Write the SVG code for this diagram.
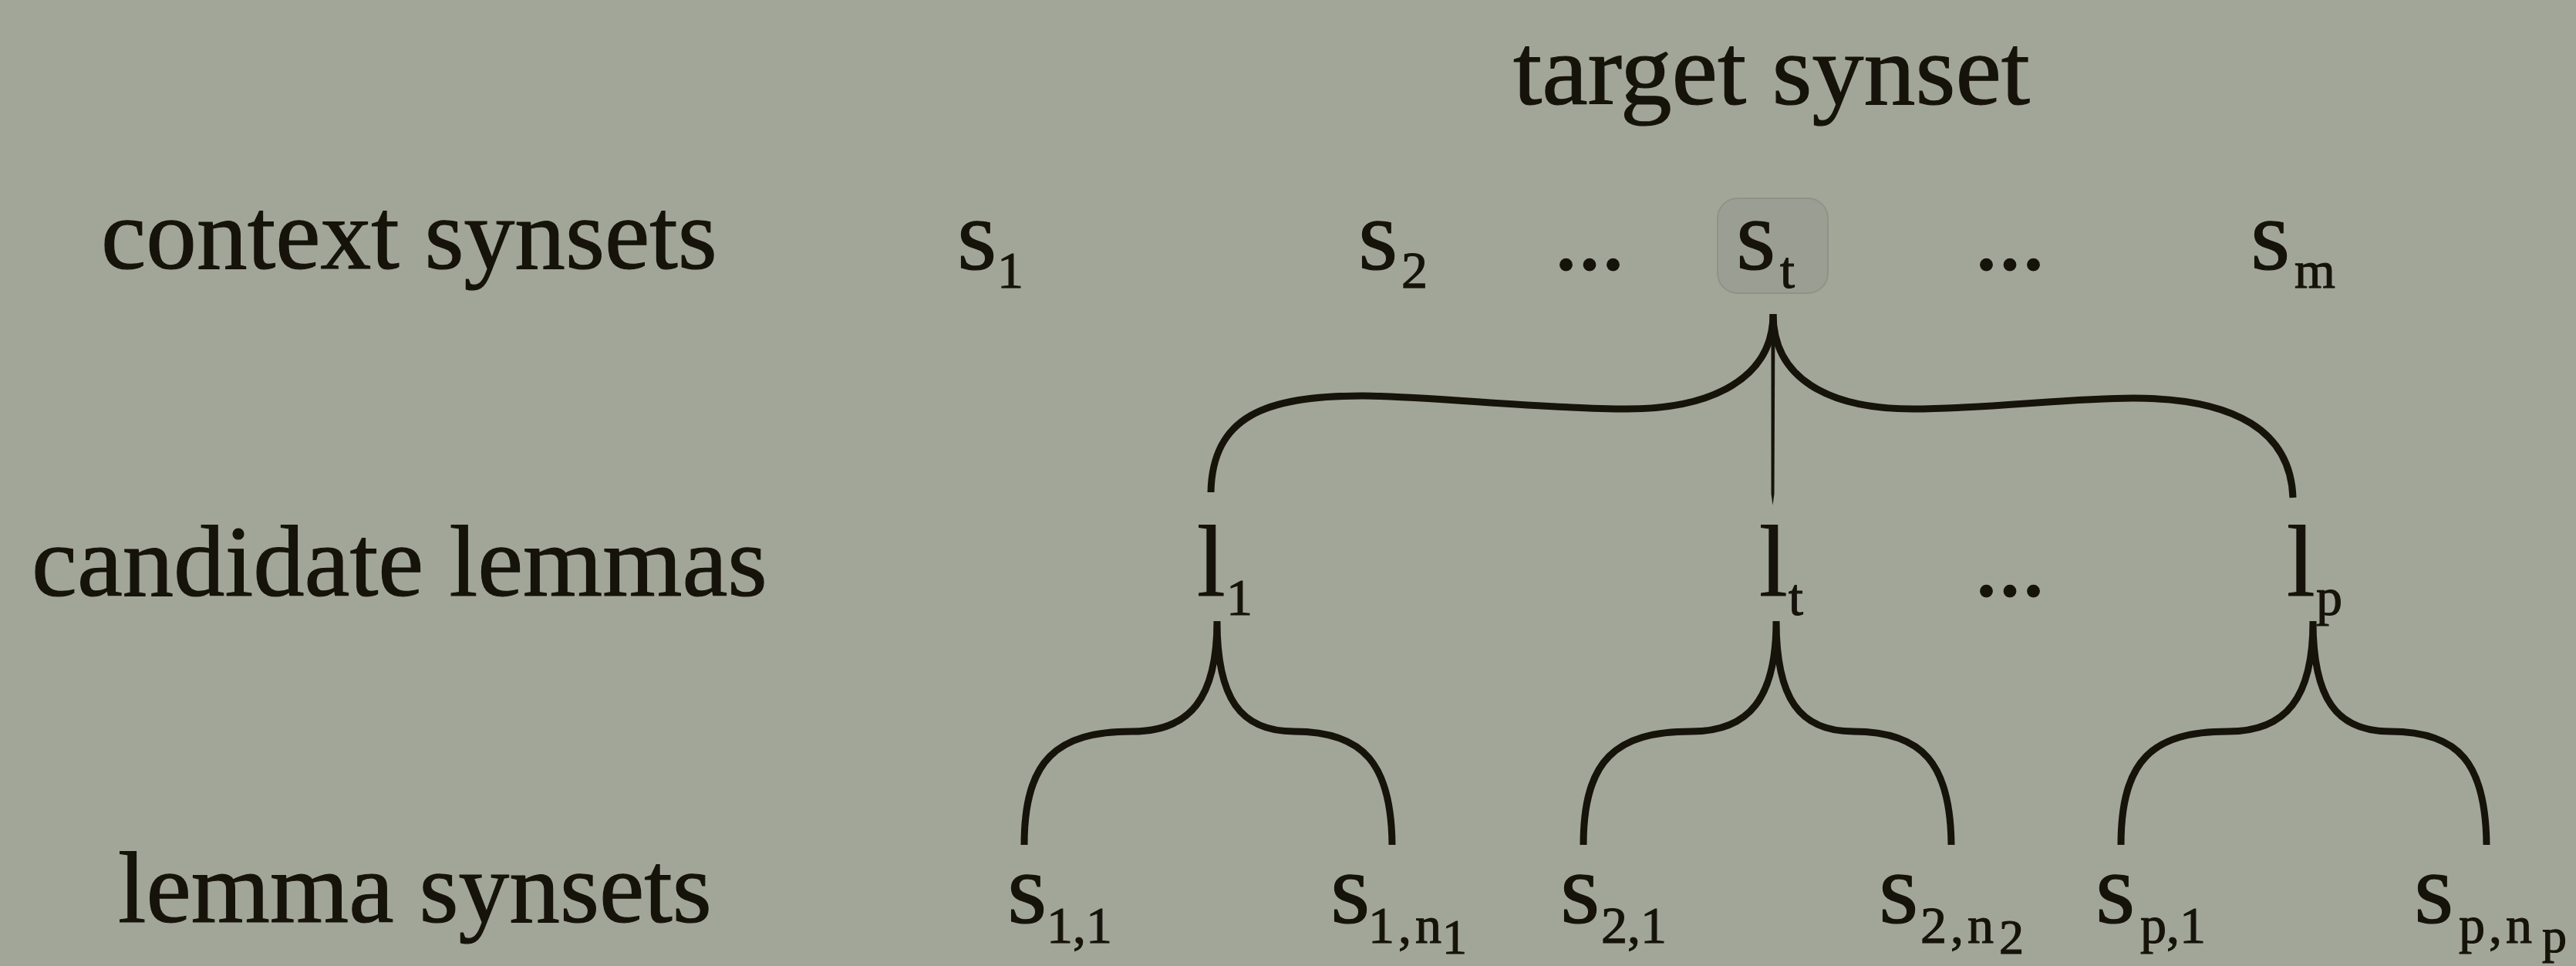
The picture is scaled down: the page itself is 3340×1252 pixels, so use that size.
<svg xmlns="http://www.w3.org/2000/svg" width="3340" height="1252" viewBox="0 0 3340 1252">
<style>
text{font-family:"Liberation Serif","Times New Roman",serif;fill:#16130a;stroke:#16130a;stroke-width:1.2px}
.lbl{font-size:132px}
.m{font-size:132px}
.sub{font-size:68px}
.subn{font-size:68px;letter-spacing:5px}
.ss{font-size:64px}
.dots{font-size:132px;letter-spacing:-2.5px}
.brace{fill:none;stroke:#16130a;stroke-width:9;stroke-linecap:butt;stroke-linejoin:round}
</style>
<rect x="0" y="0" width="3340" height="1252" fill="#a2a699"/>

<g id="row-labels">
<text class="lbl" x="1962" y="135" textLength="670" lengthAdjust="spacingAndGlyphs">target synset</text>
<text class="lbl" x="131" y="348" textLength="799" lengthAdjust="spacingAndGlyphs">context synsets</text>
<text class="lbl" x="41" y="772" textLength="954" lengthAdjust="spacingAndGlyphs">candidate lemmas</text>
<text class="lbl" x="153" y="1195" textLength="770" lengthAdjust="spacingAndGlyphs">lemma synsets</text>
</g>

<g id="connectors">
<path class="brace" d="M2299,407 C2299,490 2220,530 2110,530 C2000,530 1850,513 1766,513 C1640,513 1572,540 1570,638"/>
<path class="brace" d="M2299,407 C2299,490 2370,530 2480,530 C2580,530 2680,516 2766,516 C2900,516 2970,560 2973,645"/>
<path d="M2296.5,407 L2301.5,407 L2300.5,640 L2298.5,655 L2296.5,640 Z" fill="#16130a"/>
<path class="brace" d="M1578,805 C1578,905 1543,948 1468,948 C1370,948 1328,985 1328,1095 M1578,805 C1578,905 1608,948 1678,948 C1768,948 1804,990 1805,1095"/>
<path class="brace" d="M2303,805 C2303,905 2268,948 2193,948 C2095,948 2053,985 2053,1095 M2303,805 C2303,905 2333,948 2403,948 C2493,948 2529,990 2530,1095"/>
<path class="brace" d="M2999,805 C2999,905 2964,948 2889,948 C2791,948 2750,985 2750,1095 M2999,805 C2999,905 3029,948 3099,948 C3189,948 3223,990 3224,1095"/>
</g>

<g id="s1"><text class="m" x="1241" y="349">s</text><text class="sub" x="1293" y="373">1</text></g>
<g id="s2"><text class="m" x="1761" y="349">s</text><text class="sub" x="1817" y="373">2</text></g>
<g id="ctx-dots1"><text class="dots" x="2014" y="349">...</text></g>
<g id="st">
<rect x="2227" y="257" width="143" height="123" rx="26" fill="#9b9e92" stroke="#8f9387" stroke-width="2"/>
<text class="m" x="2251" y="349">s</text><text class="sub" x="2308" y="373">t</text>
</g>
<g id="ctx-dots2"><text class="dots" x="2559" y="349">...</text></g>
<g id="sm"><text class="m" x="2918" y="349">s</text><text class="sub" x="2975" y="373">m</text></g>

<g id="l1"><text class="m" x="1552" y="772">l</text><text class="sub" x="1590" y="797">1</text></g>
<g id="lt"><text class="m" x="2281" y="772">l</text><text class="sub" x="2319" y="797">t</text></g>
<g id="lem-dots"><text class="dots" x="2559" y="772">...</text></g>
<g id="lp"><text class="m" x="2965" y="772">l</text><text class="sub" x="3003" y="797">p</text></g>

<g id="s11"><text class="m" x="1306" y="1196">s</text><text class="sub" x="1357" y="1222">1,1</text></g>
<g id="s1n1"><text class="m" x="1725" y="1196">s</text><text class="subn" x="1774" y="1222">1,n</text><text class="ss" x="1870" y="1236">1</text></g>
<g id="s21"><text class="m" x="2023" y="1196">s</text><text class="sub" x="2076" y="1222">2,1</text></g>
<g id="s2n2"><text class="m" x="2436" y="1196">s</text><text class="subn" x="2490" y="1222">2,n</text><text class="ss" x="2592" y="1236">2</text></g>
<g id="sp1"><text class="m" x="2717" y="1196">s</text><text class="sub" x="2775" y="1222">p,1</text></g>
<g id="spnp"><text class="m" x="3130" y="1196">s</text><text class="subn" x="3188" y="1222">p,n</text><text class="ss" x="3296" y="1234">p</text></g>
</svg>
